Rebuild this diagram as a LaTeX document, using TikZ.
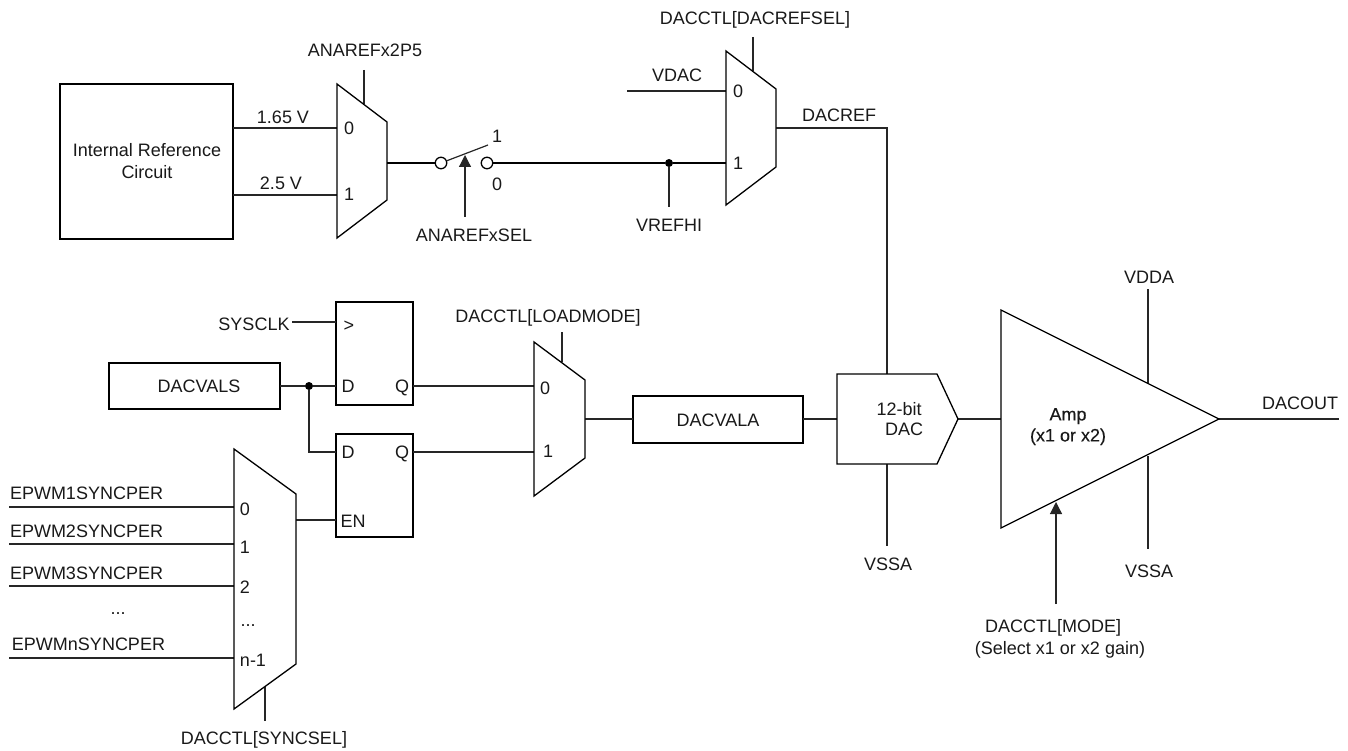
\documentclass[tikz,border=0pt]{standalone}
\usepackage{fontspec}
\setmainfont{Liberation Sans}
\newfontfamily\ampfont[FakeBold=0.2]{Liberation Sans}
\usetikzlibrary{arrows.meta}
\tikzset{
  wire/.style={line width=1.2pt,draw=black!85},
  heavywire/.style={line width=1.5pt,draw=black},
  outline/.style={line width=1.3pt,draw=black,fill=white,line join=miter},
  regbox/.style={draw=black,line width=2.2pt,fill=white,inner sep=0pt,outer sep=0pt},
  lbl/.style={inner sep=0pt,outer sep=0pt,text height=12.9pt,text depth=0pt,font=\fontsize{18}{21}\selectfont,text=black!90},
  tagarrow/.style={wire,-{Triangle[length=12pt,width=12pt]}},
  jdot/.style={circle,fill=black,inner sep=0pt,minimum size=8pt},
  contact/.style={circle,draw=black,line width=1.3pt,fill=white,inner sep=0pt,minimum size=11.5pt}
}
% name, left, right, top, bottom, slant
\newcommand{\MuxShape}[6]{%
  \coordinate (#1-a) at (#2,#4);
  \coordinate (#1-b) at (#3,#4+#6);
  \coordinate (#1-c) at (#3,#5-#6);
  \coordinate (#1-d) at (#2,#5);
  \draw[outline] (#1-a) -- (#1-b) -- (#1-c) -- (#1-d) -- cycle;
}
\begin{document}
\begin{tikzpicture}[x=1pt,y=-1pt]
\useasboundingbox (0,0) rectangle (1348,751);
% ---------- free ends
\coordinate (pa) at (337,128); \coordinate (pb) at (337,195);
\coordinate (m1o) at (387,163);
\coordinate (m1s) at (364,70); \coordinate (m1st) at (364,104);
\coordinate (m2a) at (726,91); \coordinate (m2b) at (726,163);
\coordinate (vdac) at (627,91);
\coordinate (m2o) at (776,128); \coordinate (corner) at (887,128);
\coordinate (m2s) at (753,37); \coordinate (m2st) at (753,71);
\coordinate (swA) at (465,217); \coordinate (swB) at (465,155);
\coordinate (vrefEnd) at (669,207);
\coordinate (clkStart) at (292,322);
\coordinate (m3a) at (534,386); \coordinate (m3b) at (534,452);
\coordinate (m3o) at (585,419);
\coordinate (m3s) at (562,332); \coordinate (m3st) at (562,362);
\coordinate (m4o) at (296,520);
\coordinate (m4s) at (265,721); \coordinate (m4st) at (265,687);
\coordinate (i1) at (9,507); \coordinate (j1) at (234,507);
\coordinate (i2) at (9,544); \coordinate (j2) at (234,544);
\coordinate (i3) at (9,586); \coordinate (j3) at (234,586);
\coordinate (i4) at (9,658); \coordinate (j4) at (234,658);
\coordinate (dacTop) at (887,374); \coordinate (dacBot) at (887,464); \coordinate (dacEnd) at (887,546);
\coordinate (dacL) at (837,419); \coordinate (dacTip) at (958,419);
\coordinate (ampL) at (1001,419); \coordinate (ampTip) at (1219,419); \coordinate (out) at (1339,419);
\coordinate (vddT) at (1148,289); \coordinate (vddB) at (1148,383);
\coordinate (vssT) at (1148,456); \coordinate (vssB) at (1148,549);
\coordinate (modeB) at (1056,604); \coordinate (modeT) at (1056,502);
% ---------- boxes
\node[regbox,minimum width=173pt,minimum height=155pt] (ref) at (146.5,161.5) {};
\node[regbox,minimum width=171pt,minimum height=46pt] (dacvals) at (194.5,386) {};
\node[regbox,minimum width=170pt,minimum height=47pt] (dacvala) at (718,419.5) {};
\node[regbox,minimum width=77pt,minimum height=103pt] (ff1) at (374.5,353.5) {};
\node[regbox,minimum width=77pt,minimum height=103pt] (ff2) at (374.5,485.5) {};
% ---------- connectors under shapes
\draw[wire] (ref.east |- pa) -- (pa);
\draw[wire] (ref.east |- pb) -- (pb);
\draw[wire] (m1s) -- (m1st);
\draw[wire] (m2s) -- (m2st);
\draw[wire] (m3s) -- (m3st);
\draw[wire] (m4s) -- (m4st);
\draw[wire] (vddT) -- (vddB);
\draw[wire] (vssT) -- (vssB);
\draw[wire] (vdac) -- (m2a);
\draw[wire] (m2o) -- (corner) -- (dacTop);
\draw[wire] (dacBot) -- (dacEnd);
\draw[wire] (dacvala.east |- dacL) -- (dacL);
\draw[wire] (dacTip) -- (ampL);
\draw[wire] (ampTip) -- (out);
\draw[wire] (clkStart) -- (ff1.west |- clkStart);
\draw[wire] (ff1.east |- m3a) -- (m3a);
\draw[wire] (ff2.east |- m3b) -- (m3b);
\draw[wire] (m3o) -- (dacvala.west |- m3o);
\draw[wire] (m4o) -- (ff2.west |- m4o);
\draw[wire] (i1) -- (j1); \draw[wire] (i2) -- (j2);
\draw[wire] (i3) -- (j3); \draw[wire] (i4) -- (j4);
% ---------- multiplexers, DAC and amplifier
\MuxShape{mA}{337}{387}{84}{238}{38}
\MuxShape{mB}{726}{776}{51}{205}{38}
\MuxShape{mC}{534}{585}{342}{496}{38}
\MuxShape{mD}{234}{296}{449}{709}{45}
\draw[outline] (837,374) -- (937,374) -- (dacTip) -- (937,464) -- (837,464) -- cycle;
\draw[outline] (1001,310) -- (ampTip) -- (1001,528) -- cycle;
% ---------- switch and dots
\node[contact] (c0) at (441,163) {};
\node[contact] (c1) at (487,163) {};
\node[jdot] (vj) at (669,163) {};
\node[jdot] (dj) at (309,386) {};
\draw[heavywire] (m1o) -- (c0);
\draw[heavywire] (c1) -- (vj) -- (m2b);
\draw[wire] (c0) -- (488,145);
\draw[tagarrow] (swA) -- (swB);
\draw[wire] (vj) -- (vrefEnd);
\draw[wire] (dacvals) -- (dj) -- (ff1.west |- dj);
\draw[wire] (dj) |- (ff2.west |- m3b);
\draw[tagarrow] (modeB) -- (modeT);
% ---------- labels
\node[lbl] (t1) at (147,150) {Internal Reference};
\node[lbl] (t2) at (147,172) {Circuit};
\node[lbl] (t3) at (283,117) {1.65 V};
\node[lbl] (t4) at (281,183) {2.5 V};
\node[lbl] (t5) at (349,128) {0};
\node[lbl] (t6) at (349,194) {1};
\node[lbl] (t7) at (365,50) {ANAREFx2P5};
\node[lbl] (t8) at (497,136) {1};
\node[lbl] (t9) at (497,184) {0};
\node[lbl] (t10) at (474,235) {ANAREFxSEL};
\node[lbl] (t11) at (669,225) {VREFHI};
\node[lbl] (t12) at (755,18) {DACCTL[DACREFSEL]};
\node[lbl] (t13) at (677,75) {VDAC};
\node[lbl] (t14) at (738,91) {0};
\node[lbl] (t15) at (738,163) {1};
\node[lbl] (t16) at (839,115) {DACREF};
\node[lbl] (t17) at (254,324) {SYSCLK};
\node[lbl] (t18) at (349,325) {>};
\node[lbl] (t19) at (348,386) {D};
\node[lbl] (t20) at (402,386) {Q};
\node[lbl] (t21) at (348,452) {D};
\node[lbl] (t22) at (402,452) {Q};
\node[lbl] (t23) at (353,521) {EN};
\node[lbl] (t24) at (199,386) {DACVALS};
\node[lbl] (t25) at (718,420) {DACVALA};
\node[lbl] (t26) at (548,316) {DACCTL[LOADMODE]};
\node[lbl] (t27) at (545,388) {0};
\node[lbl] (t28) at (548,451) {1};
\node[lbl,anchor=west] (t29) at (10,493) {EPWM1SYNCPER};
\node[lbl,anchor=west] (t30) at (10,531) {EPWM2SYNCPER};
\node[lbl,anchor=west] (t31) at (10,573) {EPWM3SYNCPER};
\node[lbl] (t32) at (118,608) {...};
\node[lbl] (t33) at (88.5,644) {EPWMnSYNCPER};
\node[lbl] (t34) at (245,509) {0};
\node[lbl] (t35) at (245,547) {1};
\node[lbl] (t36) at (245,587) {2};
\node[lbl] (t37) at (248,620) {...};
\node[lbl] (t38) at (253,660) {n-1};
\node[lbl] (t39) at (264,738) {DACCTL[SYNCSEL]};
\node[lbl] (t40) at (899,409) {12-bit};
\node[lbl] (t41) at (904,429) {DAC};
\node[lbl] (t42) at (888,564) {VSSA};
\node[lbl] (t43) at (1068,414) {\ampfont Amp};
\node[lbl] (t44) at (1068,435) {\ampfont (x1 or x2)};
\node[lbl] (t45) at (1149,277) {VDDA};
\node[lbl] (t46) at (1149,571) {VSSA};
\node[lbl] (t47) at (1300,403) {DACOUT};
\node[lbl] (t48) at (1053,626) {DACCTL[MODE]};
\node[lbl] (t49) at (1060,648) {(Select x1 or x2 gain)};
\end{tikzpicture}
\end{document}
